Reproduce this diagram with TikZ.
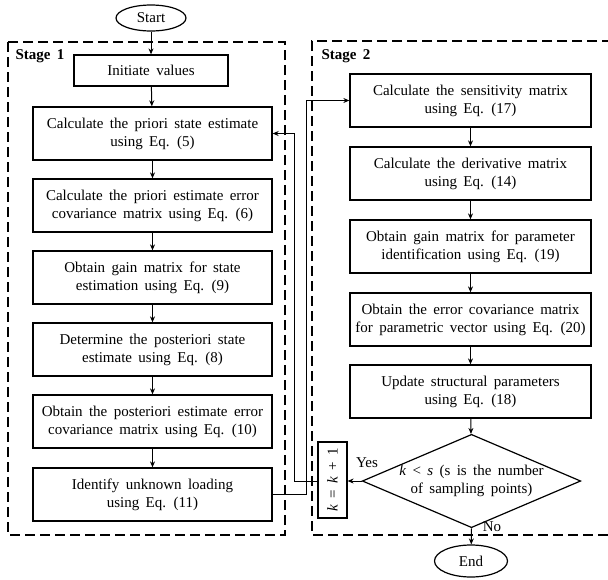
\documentclass[tikz,border=0pt]{standalone}
\usepackage{fontspec}
\setmainfont{Liberation Serif}[WordSpace=1.7]
\usepackage{graphicx}
\usetikzlibrary{arrows.meta,shapes.geometric,calc}
\begin{document}
\begin{tikzpicture}[x=1pt,y=-1pt,
  every node/.style={font=\fontsize{15}{18}\selectfont},
  pbox/.style={draw,line width=1.3pt,align=center,inner sep=0pt,minimum height=53pt},
  lbox/.style={pbox,minimum width=239pt},
  rbox/.style={pbox,minimum width=241pt},
  term/.style={draw,line width=1.2pt,ellipse,inner sep=0pt},
  stagebox/.style={line width=1.2pt,dash pattern=on 10pt off 5pt},
  arr/.style={line width=1pt,-{Stealth[length=6pt,width=5pt]}},
  conn/.style={line width=1pt}]
\useasboundingbox (0,0) rectangle (608,579);
% stage frames
\draw[stagebox] (8,42) rectangle (285,535);
\draw[stagebox] (612,41) -- (312,41) -- (312,535) -- (612,535);
\node[font=\bfseries\fontsize{15}{18}\selectfont,anchor=west] (st1) at (12,56) {Stage 1};
\node[font=\bfseries\fontsize{15}{18}\selectfont,anchor=west] (st2) at (318,56) {Stage 2};
% terminals
\node[term,minimum width=70pt,minimum height=26pt] (start) at (151,18) {Start};
\node[term,minimum width=73pt,minimum height=32pt] (end) at (471,561) {End};
% stage 1
\node[pbox,minimum width=154pt,minimum height=31pt] (init) at (151,70.5) {Initiate values};
\node[lbox] (a1) at (152.5,133.5) {Calculate the priori state estimate\\using Eq. (5)};
\node[lbox] (a2) at (152.5,205.5) {Calculate the priori estimate error\\covariance matrix using Eq. (6)};
\node[lbox] (a3) at (152.5,277.5) {Obtain gain matrix for state\\estimation using Eq. (9)};
\node[lbox] (a4) at (152.5,349.5) {Determine the posteriori state\\estimate using Eq. (8)};
\node[lbox] (a5) at (152.5,421.5) {Obtain the posteriori estimate error\\covariance matrix using Eq. (10)};
\node[lbox] (a6) at (152.5,494.5) {Identify unknown loading\\using Eq. (11)};
% stage 2
\node[rbox] (b1) at (470.5,100.5) {Calculate the sensitivity matrix\\using Eq. (17)};
\node[rbox] (b2) at (470.5,173.5) {Calculate the derivative matrix\\using Eq. (14)};
\node[rbox] (b3) at (470.5,246.5) {Obtain gain matrix for parameter\\identification using Eq. (19)};
\node[rbox] (b4) at (470.5,319.5) {Obtain the error covariance matrix\\for parametric vector using Eq. (20)};
\node[rbox] (b5) at (470.5,391.5) {Update structural parameters\\using Eq. (18)};
\node[draw,line width=1.2pt,diamond,aspect=2.34,minimum width=207pt,minimum height=88pt,inner sep=0pt,align=center] (dec) at (471.5,481) {\textit{k} < \textit{s} (s is the number\\of sampling points)};
\node[draw,line width=1.2pt,minimum width=29pt,minimum height=76pt,inner sep=0pt] (kb) at (332.5,480) {\rotatebox{90}{\textit{k} = \textit{k} + 1}};
% connectors
\draw[arr] (start) -- (init);
\draw[arr] (init) -- (a1);
\draw[arr] (a1) -- (a2);
\draw[arr] (a2) -- (a3);
\draw[arr] (a3) -- (a4);
\draw[arr] (a4) -- (a5);
\draw[arr] (a5) -- (a6);
\draw[arr] (b1) -- (b2);
\draw[arr] (b2) -- (b3);
\draw[arr] (b3) -- (b4);
\draw[arr] (b4) -- (b5);
\draw[arr] (b5) -- (dec);
\draw[arr] (dec.west) -- (kb.east |- dec.west);
\draw[arr] (kb.west |- dec.west) -- ++(-23,0) |- (a1.east);
\draw[arr] (a6.east) -- ++(34,0) |- (b1.west);
\draw[arr] (dec.south) -- (end);
\node (yes) at (367,463) {Yes};
\node (no) at (492,527) {No};
\end{tikzpicture}
\end{document}
